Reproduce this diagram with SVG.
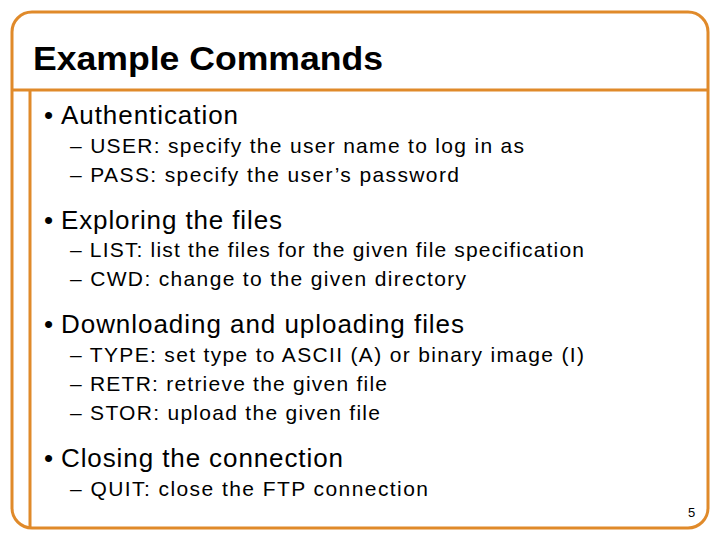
<svg xmlns="http://www.w3.org/2000/svg" width="720" height="540" viewBox="0 0 720 540">
<style>
.f{fill:none;stroke:#E08A2A;stroke-width:3}
.t{font-family:"Liberation Sans",Arial,sans-serif;fill:#000}
.h{font-size:34px;font-weight:bold}
.l1{font-size:26px}
.l2{font-size:21px}
</style>
<rect width="720" height="540" fill="#fff"/>
<rect class="f" x="12" y="12" width="696" height="516" rx="20"/>
<line class="f" x1="12" y1="90" x2="708" y2="90"/>
<line class="f" x1="30" y1="90" x2="30" y2="528"/>
<text class="t h" x="33" y="70" textLength="350" lengthAdjust="spacingAndGlyphs">Example Commands</text>
<g class="t l1">
<text x="44" y="124">•</text>
<text x="44" y="229">•</text>
<text x="44" y="333">•</text>
<text x="44" y="467">•</text>
<text x="61" y="124" textLength="177">Authentication</text>
<text x="61" y="229" textLength="221">Exploring the files</text>
<text x="61" y="333" textLength="403">Downloading and uploading files</text>
<text x="61" y="467" textLength="282">Closing the connection</text>
</g>
<g class="t l2">
<text x="70" y="153" textLength="454">– USER: specify the user name to log in as</text>
<text x="70" y="182" textLength="389">– PASS: specify the user’s password</text>
<text x="70" y="257" textLength="514">– LIST: list the files for the given file specification</text>
<text x="70" y="286" textLength="396">– CWD: change to the given directory</text>
<text x="70" y="362" textLength="514">– TYPE: set type to ASCII (A) or binary image (I)</text>
<text x="70" y="391" textLength="317">– RETR: retrieve the given file</text>
<text x="70" y="420" textLength="310">– STOR: upload the given file</text>
<text x="70" y="496" textLength="358">– QUIT: close the FTP connection</text>
</g>
<text class="t" x="688" y="517" font-size="13">5</text>
</svg>
